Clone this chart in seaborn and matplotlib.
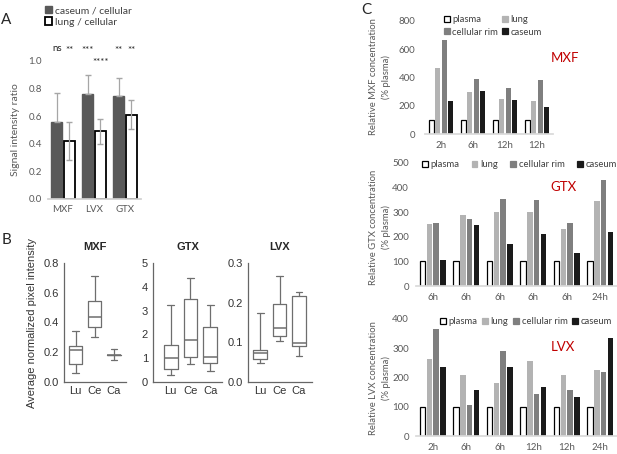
import matplotlib
matplotlib.use("Agg")
import matplotlib.pyplot as plt
from matplotlib.patches import Patch
import pandas as pd
import seaborn as sns

W, H = 617, 454

# ---- panel A: signal intensity ratios
a_drugs = ["MXF", "LVX", "GTX"]
a_series = ["caseum / cellular", "lung / cellular"]
a_caseum = [0.56, 0.76, 0.75]
a_caseum_err = [0.21, 0.14, 0.13]
a_lung = [0.42, 0.49, 0.61]
a_lung_err = [0.135, 0.09, 0.105]
a_stars_caseum = ["ns", "***", "**"]
a_stars_lung = ["**", "****", "**"]

# ---- panel B: box stats (low whisker, q1, median, q3, high whisker)
b_groups = ["Lu", "Ce", "Ca"]
b_mxf = [(0.06, 0.12, 0.215, 0.245, 0.34),
         (0.30, 0.37, 0.435, 0.545, 0.71),
         (0.15, 0.18, 0.18, 0.18, 0.22)]
b_gtx = [(0.30, 0.55, 1.00, 1.55, 3.25),
         (0.75, 1.05, 1.75, 3.50, 4.35),
         (0.45, 0.78, 1.05, 2.30, 3.25)]
b_lvx = [(0.048, 0.057, 0.073, 0.081, 0.175),
         (0.103, 0.117, 0.135, 0.197, 0.268),
         (0.065, 0.090, 0.098, 0.217, 0.227)]

# ---- panel C: relative concentration (% plasma)
tissues = ["plasma", "lung", "cellular rim", "caseum"]
c_colors = ["white", "#b3b3b3", "#7f7f7f", "#1a1a1a"]

mxf_times = ["2h", "6h", "12h", "12h"]
mxf_plasma = [100, 100, 100, 100]
mxf_lung = [470, 295, 245, 235]
mxf_rim = [665, 390, 325, 380]
mxf_caseum = [235, 305, 240, 190]

gtx_times = ["6h", "6h", "6h", "6h", "6h", "24h"]
gtx_plasma = [100, 100, 100, 100, 100, 100]
gtx_lung = [252, 290, 300, 300, 232, 345]
gtx_rim = [258, 272, 355, 348, 256, 432]
gtx_caseum = [107, 248, 172, 213, 133, 218]

lvx_times = ["2h", "6h", "6h", "12h", "12h", "24h"]
lvx_plasma = [100, 100, 100, 100, 100, 100]
lvx_lung = [263, 208, 180, 258, 210, 226]
lvx_rim = [365, 105, 292, 143, 156, 220]
lvx_caseum = [235, 158, 235, 166, 133, 335]

sns.set_theme(style="white")
plt.rcParams["font.family"] = ["Lato", "DejaVu Sans"]
GRAY = "#595959"
ARIAL = ["Liberation Sans", "DejaVu Sans"]


def rect(l, t, r, b):
    return [l / W, 1 - b / H, (r - l) / W, (b - t) / H]


fig = plt.figure(figsize=(W / 100, H / 100), dpi=100)

# ================= A =================
axA = fig.add_axes(rect(47.5, 61, 140.5, 199))
dfA = pd.DataFrame({
    "drug": a_drugs * 2,
    "series": [a_series[0]] * 3 + [a_series[1]] * 3,
    "val": a_caseum + a_lung,
})
sns.barplot(data=dfA, x="drug", y="val", hue="series", hue_order=a_series,
            palette=["#595959", "white"], width=0.8, gap=0.1, errorbar=None,
            legend=False, ax=axA, zorder=2)
bar_conts = list(axA.containers)
for i, cont in enumerate(bar_conts):
    xs = [p.get_x() + p.get_width() / 2 for p in cont]
    if i == 0:
        for p in cont:
            p.set_edgecolor("#595959")
        axA.errorbar(xs, a_caseum, yerr=[[0] * 3, a_caseum_err], fmt="none",
                     ecolor="#a6a6a6", elinewidth=0.9, capsize=2, zorder=3)
        for x, s in zip(xs, a_stars_caseum):
            axA.text(x, 1.09 if s == "ns" else 1.075, s, ha="center", va="center",
                     fontsize=7, color="#222222")
    else:
        for p in cont:
            p.set_edgecolor("black")
            p.set_linewidth(1.3)
        axA.errorbar(xs, a_lung, yerr=a_lung_err, fmt="none",
                     ecolor="#a6a6a6", elinewidth=0.9, capsize=2, zorder=3)
        for x, s in zip(xs, a_stars_lung):
            axA.text(x, 0.99 if s == "****" else 1.075, s, ha="center", va="center",
                     fontsize=7, color="#222222")
axA.set_ylim(0, 1.0)
axA.set_xlim(-0.5, 2.5)
axA.set_yticks([0, 0.2, 0.4, 0.6, 0.8, 1.0])
axA.set_yticklabels([f"{v:.1f}" for v in axA.get_yticks()])
axA.tick_params(length=0, labelsize=7, labelcolor=GRAY, pad=4)
axA.set_xlabel("")
axA.set_ylabel("Signal intensity ratio", fontsize=7.5, color=GRAY, labelpad=6)
sns.despine(ax=axA, left=True)
axA.spines["bottom"].set_color("#d0d0d0")
fig.legend(handles=[Patch(facecolor="#595959", edgecolor="#595959"),
                    Patch(facecolor="white", edgecolor="black", linewidth=1.3)],
           labels=a_series, loc="upper left", bbox_to_anchor=(45 / W, 1 - 6 / H),
           frameon=False, fontsize=7.5, handlelength=0.7, handleheight=0.7,
           handletextpad=0.3, labelspacing=0.2, labelcolor="#404040",
           borderpad=0, borderaxespad=0)
fig.text(6 / W, 1 - 20 / H, "A", fontsize=11, ha="center", va="center")

# ================= B =================
b_specs = [
    ("MXF", b_mxf, rect(64, 263, 126, 382), (0.8, [0, 0.2, 0.4, 0.6, 0.8], "{:.1f}"), (0.4, 3.63)),
    ("GTX", b_gtx, rect(153, 263, 222, 382), (5, [0, 1, 2, 3, 4, 5], "{:.0f}"), (0.1, 3.6)),
    ("LVX", b_lvx, rect(248, 263, 312, 382), (0.3, [0, 0.1, 0.2, 0.3], "{:.1f}"), (0.37, 3.67)),
]
bline = dict(color="#6e6e6e", linewidth=0.9)
for name, stats, r, (ymax, yt, fmt), xl in b_specs:
    ax = fig.add_axes(r)
    st = [dict(whislo=s[0], q1=s[1], med=s[2], q3=s[3], whishi=s[4], label=g)
          for s, g in zip(stats, b_groups)]
    ax.bxp(st, positions=[1, 2, 3], widths=0.7, showfliers=False,
           boxprops=bline, whiskerprops=bline, capprops=bline,
           medianprops=dict(color="#6e6e6e", linewidth=1.1))
    ax.set_ylim(0, ymax)
    ax.set_xlim(*xl)
    ax.set_yticks(yt)
    ax.set_yticklabels([fmt.format(v) for v in yt], family=ARIAL)
    ax.set_xticks([1, 2, 3])
    ax.set_xticklabels(b_groups, family=ARIAL)
    ax.tick_params(axis="y", length=2.5, width=0.8, color="#555555", labelsize=8,
                   labelcolor="#333333", pad=1)
    ax.tick_params(axis="x", length=0, labelsize=8, labelcolor="#333333", pad=3)
    sns.despine(ax=ax)
    for sp in ("left", "bottom"):
        ax.spines[sp].set_color("#666666")
        ax.spines[sp].set_linewidth(0.9)
    ax.set_title(name, fontsize=8, fontweight="bold", family=ARIAL, pad=9)
fig.text(32 / W, 1 - 323 / H, "Average normalized pixel intensity", rotation=90,
         ha="center", va="center", fontsize=8, color="#333333", family=ARIAL)
fig.text(6 / W, 1 - 240 / H, "B", fontsize=11, ha="center", va="center")

# ================= C =================
c_specs = [
    ("MXF", mxf_times, [mxf_plasma, mxf_lung, mxf_rim, mxf_caseum],
     rect(425, 21, 553, 134), 800, [0, 200, 400, 600, 800], 7,
     77, (551 / W, 1 - 58 / H)),
    ("GTX", gtx_times, [gtx_plasma, gtx_lung, gtx_rim, gtx_caseum],
     rect(416, 163, 617, 286), 500, [0, 100, 200, 300, 400, 500], 5,
     227, (550 / W, 1 - 187 / H)),
    ("LVX", lvx_times, [lvx_plasma, lvx_lung, lvx_rim, lvx_caseum],
     rect(416, 319, 617, 436), 400, [0, 100, 200, 300, 400], 5,
     378, (551 / W, 1 - 347 / H)),
]
for name, times, series, r, ymax, yt, pad, ylab_y, lab_pos in c_specs:
    ax = fig.add_axes(r)
    n = len(times)
    df = pd.DataFrame({
        "t": list(range(n)) * 4,
        "tissue": [t for t in tissues for _ in range(n)],
        "val": [v for s in series for v in s],
    })
    sns.barplot(data=df, x="t", y="val", hue="tissue", hue_order=tissues,
                palette=c_colors, width=0.8, gap=0.18, errorbar=None,
                legend=False, ax=ax)
    for i, cont in enumerate(list(ax.containers)):
        for p in cont:
            if i == 0:
                p.set_edgecolor("black")
                p.set_linewidth(0.9)
            else:
                p.set_edgecolor(c_colors[i])
                p.set_linewidth(0)
    ax.set_ylim(0, ymax)
    ax.set_xlim(-0.5, n - 0.5)
    ax.set_yticks(yt)
    ax.set_xticks(range(n))
    ax.set_xticklabels(times)
    ax.tick_params(length=0, labelsize=7, labelcolor=GRAY)
    ax.tick_params(axis="y", pad=pad)
    ax.tick_params(axis="x", pad=5)
    ax.set_xlabel("")
    ax.set_ylabel("")
    sns.despine(ax=ax, left=True)
    ax.spines["bottom"].set_color("#d9d9d9")
    fig.text(380 / W, 1 - ylab_y / H,
             f"Relative {name} concentration\n(% plasma)", rotation=90,
             ha="center", va="center", fontsize=6.8, color=GRAY,
             multialignment="center", linespacing=1.35)
    fig.text(lab_pos[0], lab_pos[1], name, color="#c00000", fontsize=9.5,
             ha="left", va="center")

handles = [Patch(facecolor=c, edgecolor="black" if i == 0 else c, linewidth=0.9)
           for i, c in enumerate(c_colors)]
leg_kw = dict(frameon=False, fontsize=6.8, handlelength=0.6, handleheight=0.6,
              handletextpad=0.3, labelcolor="#404040", loc="upper left",
              borderpad=0, borderaxespad=0)
# two-row legend for MXF: fill order is column-wise
order = [0, 2, 1, 3]
fig.legend(handles=[handles[k] for k in order], labels=[tissues[k] for k in order],
           ncol=2, columnspacing=0.4, labelspacing=0.4,
           bbox_to_anchor=(444 / W, 1 - 15 / H), **leg_kw)
fig.legend(handles=handles, labels=tissues, ncol=4, columnspacing=1.3,
           bbox_to_anchor=(422 / W, 1 - 160 / H), **leg_kw)
fig.legend(handles=handles, labels=tissues, ncol=4, columnspacing=0.5,
           bbox_to_anchor=(440 / W, 1 - 317 / H), **leg_kw)
fig.text(366 / W, 1 - 10 / H, "C", fontsize=11, ha="center", va="center")

fig.savefig("out.png", dpi=100)
